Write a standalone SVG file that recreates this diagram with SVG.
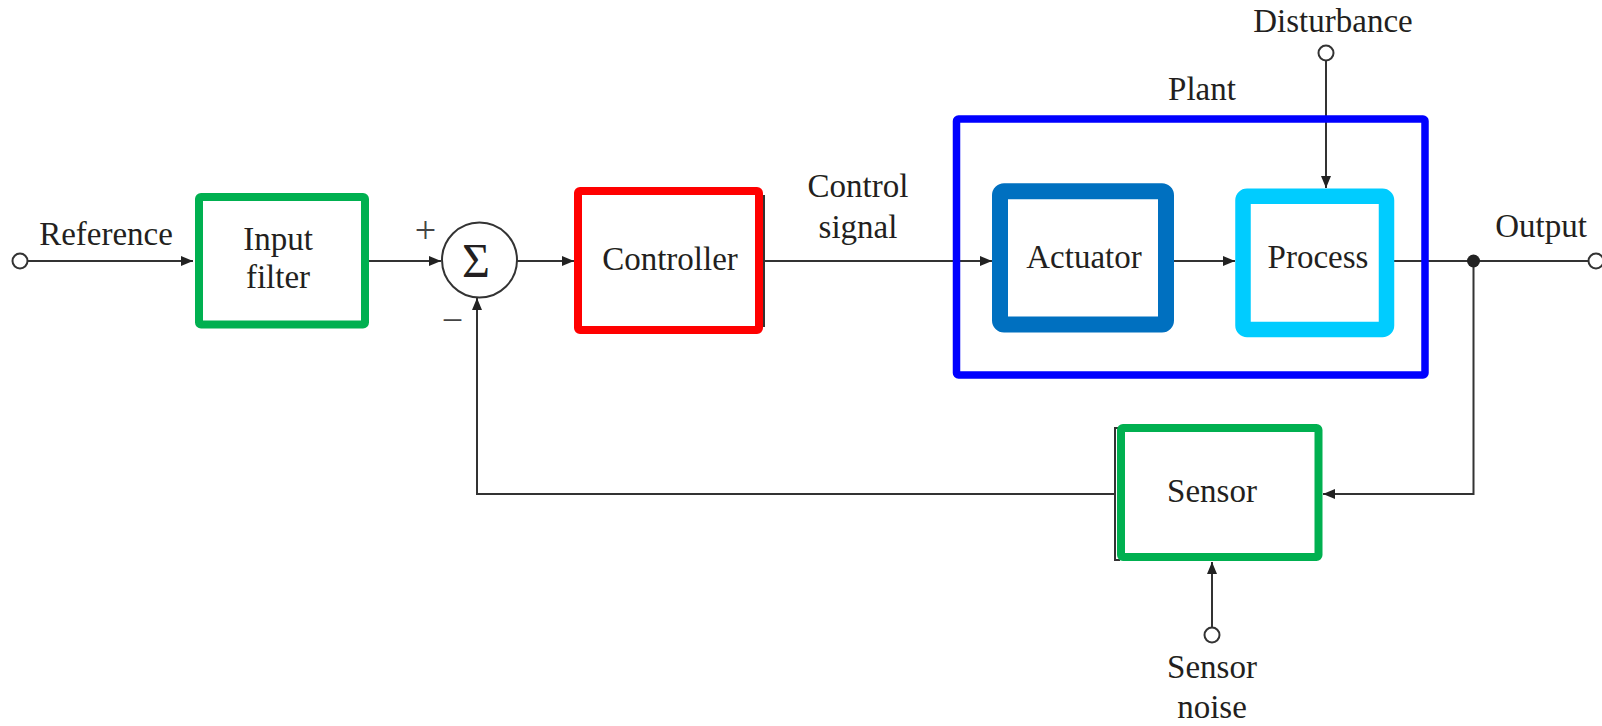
<svg xmlns="http://www.w3.org/2000/svg" width="1602" height="726" viewBox="0 0 1602 726">
<defs>
<marker id="arr" markerUnits="userSpaceOnUse" markerWidth="13" markerHeight="11" refX="12" refY="5" orient="auto">
<path d="M0,0 L12,5 L0,10 z" fill="#222"/>
</marker>
<style>
text{font-family:"Liberation Serif","Times New Roman",serif;font-size:33px;fill:#231f20;text-anchor:middle}
.sign{font-size:38px;fill:#444}
.ln{fill:none;stroke:#333;stroke-width:2}
.term{fill:#fff;stroke:#333;stroke-width:2}
.box{fill:#fff}
.thin{fill:none;stroke:#333;stroke-width:2}
</style>
</defs>
<rect width="1602" height="726" fill="#fff"/>

<g id="connectors">
<line class="ln" x1="27.5" y1="261" x2="193" y2="261" marker-end="url(#arr)"/>
<line class="ln" x1="369" y1="261" x2="441" y2="261" marker-end="url(#arr)"/>
<line class="ln" x1="517" y1="261" x2="574" y2="261" marker-end="url(#arr)"/>
<line class="ln" x1="763" y1="261" x2="992" y2="261" marker-end="url(#arr)"/>
<line class="ln" x1="1174" y1="261" x2="1235" y2="261" marker-end="url(#arr)"/>
<line class="ln" x1="1394" y1="261" x2="1588" y2="261"/>
<line class="ln" x1="1326" y1="60.5" x2="1326" y2="188" marker-end="url(#arr)"/>
<polyline class="ln" points="1473.5,261 1473.5,494 1323,494" marker-end="url(#arr)"/>
<polyline class="ln" points="1115,494 477,494 477,298" marker-end="url(#arr)"/>
<line class="ln" x1="1212" y1="627.5" x2="1212" y2="562" marker-end="url(#arr)"/>
<circle cx="1473.5" cy="261" r="6.5" fill="#222"/>
</g>

<g id="reference">
<circle class="term" cx="20" cy="261" r="7.5"/>
<text x="106" y="245">Reference</text>
</g>

<g id="input-filter">
<rect class="box" x="199" y="197" width="166" height="127.5" stroke="#00b050" stroke-width="8" rx="2"/>
<text x="278" y="250">Input</text>
<text x="278" y="288">filter</text>
</g>

<g id="sum">
<circle cx="479.5" cy="260" r="37.5" fill="#fff" stroke="#333" stroke-width="2"/>
<text x="476" y="277" style="font-size:48px">Σ</text>
<text class="sign" x="425.5" y="243">+</text>
<text class="sign" x="452.5" y="333">−</text>
</g>

<g id="controller">
<line class="thin" x1="764" y1="195" x2="764" y2="327"/>
<rect class="box" x="578" y="191" width="181" height="139" stroke="#ff0000" stroke-width="8" rx="2"/>
<text x="670" y="270">Controller</text>
</g>

<g id="control-signal-label">
<text x="858" y="197">Control</text>
<text x="858" y="238">signal</text>
</g>

<g id="plant">
<rect x="956.5" y="119" width="468.5" height="256" fill="none" stroke="#0000ff" stroke-width="7.5" rx="2"/>
<text x="1202" y="100">Plant</text>
</g>

<g id="actuator">
<rect class="box" x="1000" y="191.3" width="166" height="133.2" stroke="#0070c0" stroke-width="16" rx="4"/>
<text x="1084" y="268">Actuator</text>
</g>

<g id="process">
<rect class="box" x="1243" y="196.3" width="143.5" height="133.2" stroke="#00ccff" stroke-width="15.5" rx="4"/>
<text x="1318" y="268">Process</text>
</g>

<g id="disturbance">
<circle class="term" cx="1326" cy="53" r="7.5"/>
<text x="1333" y="32">Disturbance</text>
</g>

<g id="output">
<circle class="term" cx="1596" cy="261" r="7.5"/>
<text x="1541" y="236.5">Output</text>
</g>

<g id="sensor">
<polyline class="thin" points="1120,428 1115,428 1115,560 1120,560"/>
<rect class="box" x="1121" y="428" width="197.5" height="129" stroke="#00b050" stroke-width="8" rx="2"/>
<text x="1212" y="501.5">Sensor</text>
</g>

<g id="sensor-noise">
<circle class="term" cx="1212" cy="635" r="7.5"/>
<text x="1212" y="678">Sensor</text>
<text x="1212" y="718">noise</text>
</g>
</svg>
